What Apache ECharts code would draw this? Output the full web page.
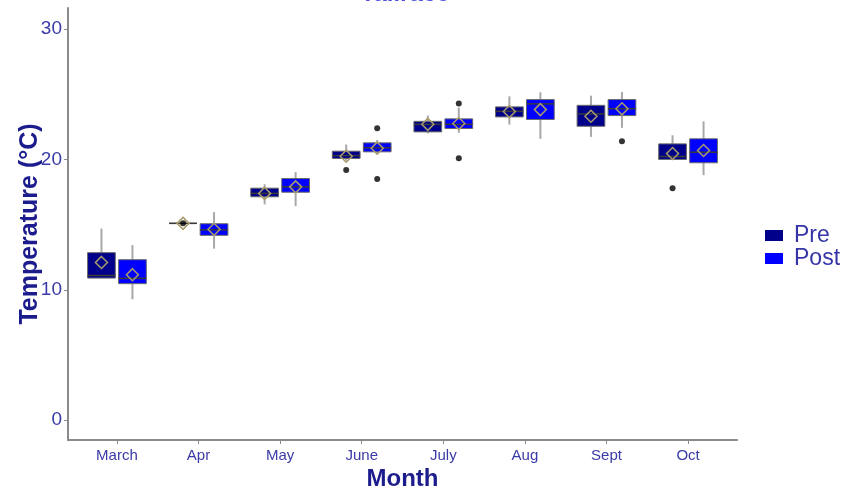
<!DOCTYPE html>
<html>
<head>
<meta charset="utf-8">
<script src="https://cdn.jsdelivr.net/npm/echarts@6/dist/echarts.min.js"></script>
<style>
  html, body { margin: 0; padding: 0; background: #fff; }
  #chart { width: 846px; height: 493px; }
</style>
</head>
<body>
<div id="chart"></div>
<script>
// months on the x axis
const months = ["March", "Apr", "May", "June", "July", "Aug", "Sept", "Oct"];
const yTicks = [0, 10, 20, 30];

// [min, q1, median, q3, max, mean] per month
const preStats = [
  [10.9, 10.9, 11.1, 12.85, 14.7, 12.1],
  [15.1, 15.1, 15.1, 15.1, 15.1, 15.1],
  [16.55, 17.14, 17.4, 17.8, 18.1, 17.4],
  [19.9, 20.08, 20.3, 20.64, 21.15, 20.25],
  [22.0, 22.12, 22.7, 22.93, 23.37, 22.7],
  [22.68, 23.27, 23.7, 24.04, 24.85, 23.68],
  [21.74, 22.55, 23.5, 24.16, 24.9, 23.32],
  [20.0, 20.0, 20.23, 21.2, 21.86, 20.46]
];
const postStats = [
  [9.27, 10.47, 10.88, 12.31, 13.43, 11.16],
  [13.16, 14.18, 14.6, 15.07, 15.96, 14.64],
  [16.42, 17.49, 17.9, 18.54, 19.03, 17.9],
  [20.4, 20.59, 20.9, 21.28, 21.5, 20.87],
  [22.05, 22.38, 22.7, 23.12, 23.98, 22.76],
  [21.59, 23.07, 24.27, 24.6, 25.16, 23.83],
  [22.43, 23.37, 23.9, 24.6, 25.19, 23.89],
  [18.8, 19.75, 20.56, 21.59, 22.93, 20.69]
];
// outliers: [month index, value]
const preOutliers = [[1, 15.1], [3, 19.2], [7, 17.8]];
const postOutliers = [[3, 22.4], [3, 18.5], [4, 24.3], [4, 20.1], [6, 21.4]];

const PRE_COLOR = "#00008b";
const POST_COLOR = "#0000ff";
const DODGE = 0.19;
const HALF_W = 0.17;

function boxRenderer(offset) {
  return function (params, api) {
    const x = api.value(0) + offset;
    const pMin = api.coord([x, api.value(1)]);
    const pQ1 = api.coord([x, api.value(2)]);
    const pMed = api.coord([x, api.value(3)]);
    const pQ3 = api.coord([x, api.value(4)]);
    const pMax = api.coord([x, api.value(5)]);
    const pMean = api.coord([x, api.value(6)]);
    const hw = api.size([HALF_W, 0])[0];
    const cx = pMed[0];
    const d = 6;
    return {
      type: "group",
      children: [
        {
          type: "line",
          shape: { x1: cx, y1: pMax[1], x2: cx, y2: pMin[1] },
          style: { stroke: "#a8a8a8", lineWidth: 2 }
        },
        {
          type: "rect",
          shape: { x: cx - hw, y: pQ3[1], width: hw * 2, height: pQ1[1] - pQ3[1] },
          style: { fill: api.visual("color"), stroke: "#6a6a6a", lineWidth: 1 }
        },
        {
          type: "line",
          shape: { x1: cx - hw, y1: pMed[1], x2: cx + hw, y2: pMed[1] },
          style: { stroke: "#3a3a3a", lineWidth: 1.5 }
        },
        {
          type: "polygon",
          shape: { points: [[cx, pMean[1] - d], [cx + d, pMean[1]], [cx, pMean[1] + d], [cx - d, pMean[1]]] },
          style: { fill: "none", stroke: "#a89c6a", lineWidth: 1.5 }
        }
      ]
    };
  };
}

const chart = echarts.init(document.getElementById("chart"));
const fontFamily = "Liberation Sans, Arial, sans-serif";

const option = {
  animation: false,
  textStyle: { fontFamily: fontFamily },
  grid: { left: 68, right: 109, top: 8, bottom: 53, outerBoundsMode: "none" },
  graphic: [
    {
      type: "text",
      x: 405,
      y: 6,
      style: {
        text: "Tailrace",
        font: "bold 24px " + fontFamily,
        fill: "#5050e0",
        textAlign: "center",
        textVerticalAlign: "bottom"
      }
    }
  ],
  legend: {
    orient: "vertical",
    left: 760,
    top: 219,
    itemGap: 0,
    itemWidth: 18,
    itemHeight: 11,
    icon: "rect",
    data: ["Pre", "Post"],
    textStyle: { fontSize: 23, color: "#3535a8", fontFamily: fontFamily, padding: [0, 0, 0, 6] }
  },
  xAxis: {
    type: "value",
    min: -0.6,
    max: 7.6,
    name: "Month",
    nameLocation: "middle",
    nameGap: 27,
    nameMoveOverlap: false,
    nameTextStyle: { fontSize: 24, fontWeight: "bold", color: "#1c1c8c" },
    splitLine: { show: false },
    axisLine: { onZero: false, lineStyle: { color: "#8a8a8a", width: 2 } },
    axisTick: { customValues: months.map((m, i) => i), length: 4, lineStyle: { color: "#8a8a8a" } },
    axisLabel: {
      customValues: months.map((m, i) => i),
      formatter: (v) => months[v],
      fontSize: 15,
      color: "#3a3aa8",
      margin: 8
    }
  },
  yAxis: {
    type: "value",
    min: -1.53,
    max: 31.63,
    name: "Temperature (°C)",
    nameLocation: "middle",
    nameGap: 25,
    nameMoveOverlap: false,
    nameTextStyle: { fontSize: 25, fontWeight: "bold", color: "#1c1c8c" },
    splitLine: { show: false },
    axisLine: { show: true, onZero: false, lineStyle: { color: "#8a8a8a", width: 2 } },
    axisTick: { show: true, customValues: yTicks, length: 4, lineStyle: { color: "#8a8a8a" } },
    axisLabel: { customValues: yTicks, fontSize: 19, color: "#3a3aa8", margin: 6 }
  },
  series: [
    {
      name: "Pre",
      type: "custom",
      itemStyle: { color: PRE_COLOR },
      renderItem: boxRenderer(-DODGE),
      encode: { x: 0, y: [1, 2, 3, 4, 5, 6] },
      data: preStats.map((s, i) => [i].concat(s)),
      z: 2
    },
    {
      name: "Post",
      type: "custom",
      itemStyle: { color: POST_COLOR },
      renderItem: boxRenderer(DODGE),
      encode: { x: 0, y: [1, 2, 3, 4, 5, 6] },
      data: postStats.map((s, i) => [i].concat(s)),
      z: 2
    },
    {
      type: "scatter",
      symbolSize: 6,
      itemStyle: { color: "#000" },
      data: preOutliers.map((o) => [o[0] - DODGE, o[1]]),
      z: 3
    },
    {
      type: "scatter",
      symbolSize: 6,
      itemStyle: { color: "#000" },
      data: postOutliers.map((o) => [o[0] + DODGE, o[1]]),
      z: 3
    }
  ]
};

chart.setOption(option);
</script>
</body>
</html>
